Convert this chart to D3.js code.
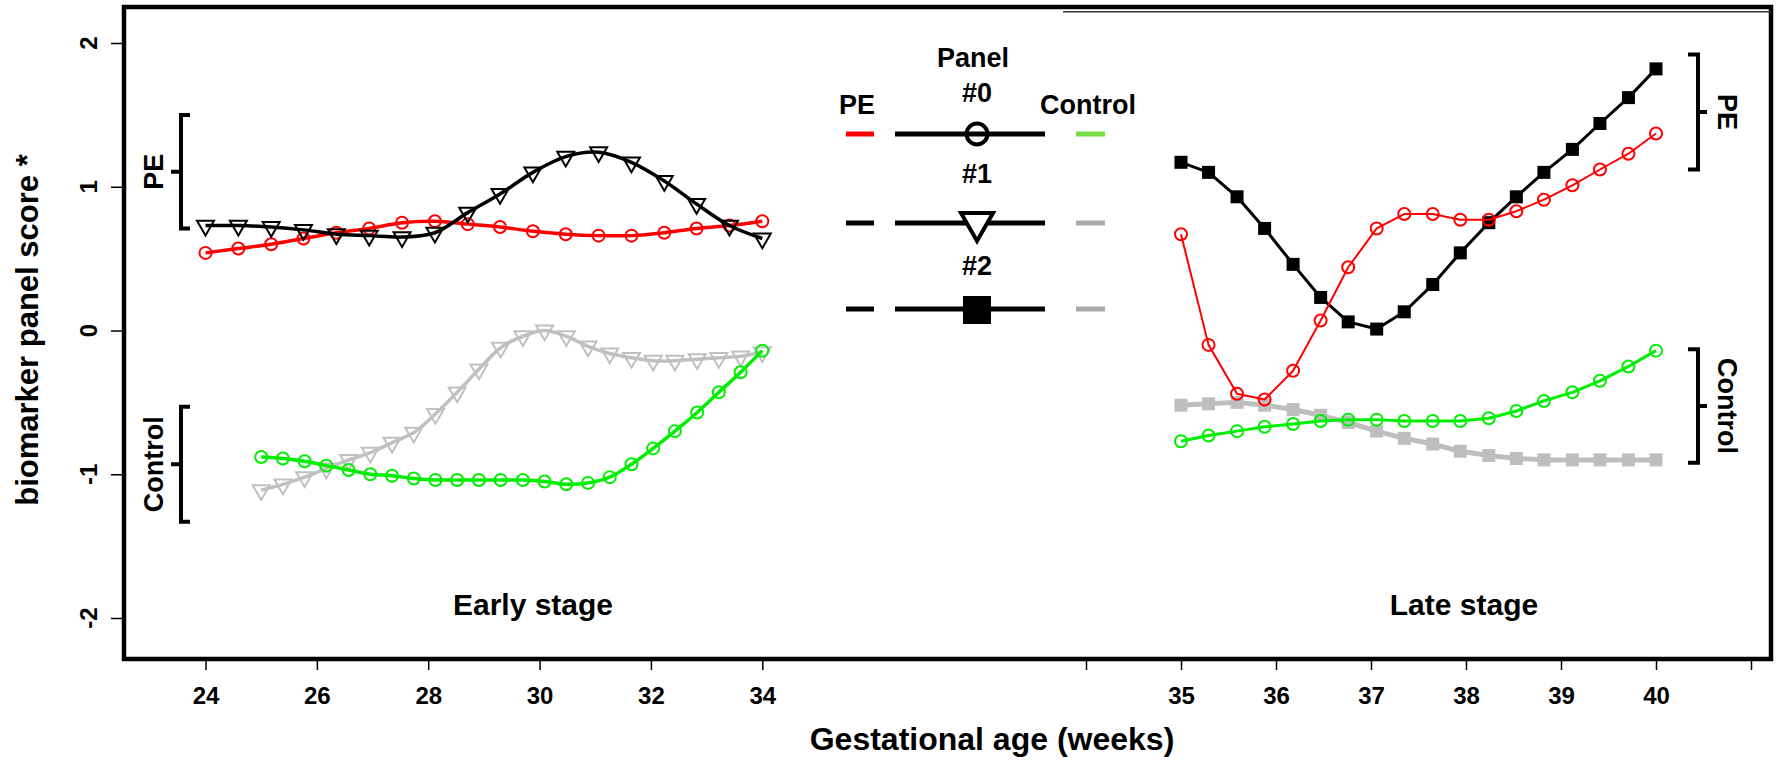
<!DOCTYPE html>
<html>
<head>
<meta charset="utf-8">
<script src="https://cdn.jsdelivr.net/npm/d3@7"></script>
<style>
  body { margin: 0; background: #fff; }
  text { font-family: "Liberation Sans", Arial, sans-serif; font-weight: bold; fill: #000; }
</style>
</head>
<body>
<div id="chart"></div>
<script>
// weeks for each stage
var earlyPEWeeks = [24, 24.59, 25.18, 25.76, 26.35, 26.94, 27.53, 28.12, 28.71, 29.29, 29.88, 30.47, 31.06, 31.65, 32.24, 32.82, 33.41, 34];
var earlyCtrlWeeks = [25, 25.39, 25.78, 26.17, 26.57, 26.96, 27.35, 27.74, 28.13, 28.52, 28.91, 29.30, 29.70, 30.09, 30.48, 30.87, 31.26, 31.65, 32.04, 32.43, 32.83, 33.22, 33.61, 34];
var lateWeeks = [35, 35.29, 35.59, 35.88, 36.18, 36.47, 36.76, 37.06, 37.35, 37.65, 37.94, 38.24, 38.53, 38.82, 39.12, 39.41, 39.71, 40];

// early stage scores
var earlyPE0 = [0.54, 0.57, 0.60, 0.64, 0.68, 0.71, 0.75, 0.76, 0.74, 0.72, 0.69, 0.67, 0.66, 0.66, 0.68, 0.71, 0.73, 0.76];
var earlyPE1 = [0.73, 0.73, 0.72, 0.70, 0.67, 0.66, 0.65, 0.68, 0.82, 0.95, 1.10, 1.21, 1.24, 1.17, 1.04, 0.88, 0.73, 0.64];
var earlyCtrl0 = [-0.88, -0.89, -0.91, -0.94, -0.97, -1.00, -1.01, -1.03, -1.04, -1.04, -1.04, -1.04, -1.04, -1.05, -1.07, -1.06, -1.02, -0.93, -0.82, -0.70, -0.57, -0.43, -0.29, -0.14];
var earlyCtrl1 = [-1.11, -1.07, -1.02, -0.96, -0.90, -0.85, -0.78, -0.71, -0.58, -0.43, -0.27, -0.12, -0.04, 0.00, -0.04, -0.11, -0.16, -0.19, -0.21, -0.21, -0.20, -0.19, -0.18, -0.15];

// late stage scores
var latePE0 = [0.67, -0.10, -0.44, -0.48, -0.28, 0.07, 0.44, 0.71, 0.81, 0.81, 0.77, 0.77, 0.83, 0.91, 1.01, 1.12, 1.23, 1.37];
var latePE2 = [1.17, 1.10, 0.93, 0.71, 0.46, 0.23, 0.06, 0.01, 0.13, 0.32, 0.54, 0.75, 0.93, 1.10, 1.26, 1.44, 1.62, 1.82];
var lateCtrl0 = [-0.77, -0.73, -0.70, -0.67, -0.65, -0.63, -0.62, -0.62, -0.63, -0.63, -0.63, -0.61, -0.56, -0.49, -0.43, -0.35, -0.25, -0.14];
var lateCtrl2 = [-0.52, -0.51, -0.50, -0.52, -0.55, -0.59, -0.64, -0.70, -0.75, -0.79, -0.84, -0.87, -0.89, -0.90, -0.90, -0.90, -0.90, -0.90];

// axis ticks
var yTicks = [-2, -1, 0, 1, 2];
var earlyTicks = [24, 26, 28, 30, 32, 34];
var lateTicks = [34, 35, 36, 37, 38, 39, 40, 41];
var lateTickLabels = ["", "35", "36", "37", "38", "39", "40", ""];

// group brackets [stage, label, top, bottom]
var brackets = [
  ["early", "PE", 1.50, 0.71],
  ["early", "Control", -0.53, -1.33],
  ["late", "PE", 1.92, 1.12],
  ["late", "Control", -0.13, -0.92]
];

var width = 1781, height = 761;
var frame = {left: 124, right: 1771, top: 7, bottom: 659};

var svg = d3.select("#chart").append("svg")
  .attr("width", width)
  .attr("height", height);

var y = d3.scaleLinear().domain([-2, 2]).range([618, 43]);
var xEarly = d3.scaleLinear().domain([24, 34]).range([205.5, 762.3]);
var xLate = d3.scaleLinear().domain([35, 40]).range([1181, 1656]);

// frame
svg.append("rect")
  .attr("x", frame.left).attr("y", frame.top)
  .attr("width", frame.right - frame.left)
  .attr("height", frame.bottom - frame.top)
  .attr("fill", "none").attr("stroke", "#000").attr("stroke-width", 4.5);
svg.append("line")
  .attr("x1", 1063).attr("x2", frame.right).attr("y1", 11.8).attr("y2", 11.8)
  .attr("stroke", "#333").attr("stroke-width", 1.5);

// y axis
var yAxis = svg.append("g").attr("transform", "translate(" + frame.left + ",0)")
  .call(d3.axisLeft(y).tickValues(yTicks).tickSize(13).tickFormat(""));
yAxis.select(".domain").remove();
yAxis.selectAll("line").attr("stroke-width", 1.5);
svg.selectAll(".ylab").data(yTicks).enter().append("text")
  .attr("transform", function(d) { return "translate(96.7," + y(d) + ") rotate(-90)"; })
  .attr("text-anchor", "middle")
  .style("font-size", "24px")
  .text(function(d) { return d; });

svg.append("text")
  .attr("transform", "translate(38,330) rotate(-90)")
  .attr("text-anchor", "middle")
  .style("font-size", "31px")
  .text("biomarker panel score *");

// x axes
var ea = svg.append("g").attr("transform", "translate(0," + frame.bottom + ")")
  .call(d3.axisBottom(xEarly).tickValues(earlyTicks).tickSize(11).tickPadding(30));
var la = svg.append("g").attr("transform", "translate(0," + frame.bottom + ")")
  .call(d3.axisBottom(xLate).tickValues(lateTicks).tickSize(11).tickPadding(30)
    .tickFormat(function(d, i) { return lateTickLabels[i]; }));
[ea, la].forEach(function(a) {
  a.select(".domain").remove();
  a.selectAll("line").attr("stroke-width", 1.5);
  a.selectAll("text").attr("dy", 0).attr("y", 45).style("font-size", "24px")
    .style("font-family", "'Liberation Sans', Arial, sans-serif").style("font-weight", "bold");
});

svg.append("text")
  .attr("x", 992).attr("y", 750)
  .attr("text-anchor", "middle")
  .style("font-size", "32px")
  .text("Gestational age (weeks)");

svg.append("text").attr("x", 533).attr("y", 615).attr("text-anchor", "middle")
  .style("font-size", "30px").text("Early stage");
svg.append("text").attr("x", 1464).attr("y", 615).attr("text-anchor", "middle")
  .style("font-size", "30px").text("Late stage");

// markers
function triangle(g, cx, cy, s, color, sw) {
  g.append("path")
    .attr("d", "M" + (cx - 1.35 * s) + "," + (cy - 0.78 * s) +
               "L" + (cx + 1.35 * s) + "," + (cy - 0.78 * s) +
               "L" + cx + "," + (cy + 1.56 * s) + "Z")
    .attr("fill", "none").attr("stroke", color).attr("stroke-width", sw);
}

function series(weeks, vals, xs, color, lw, marker, curve) {
  var g = svg.append("g");
  var pts = weeks.map(function(w, i) { return [xs(w), y(vals[i])]; });
  g.append("path")
    .attr("d", d3.line().curve(curve)(pts))
    .attr("fill", "none").attr("stroke", color).attr("stroke-width", lw)
    .attr("stroke-linejoin", "round");
  pts.forEach(function(p) {
    if (marker === "circle") {
      g.append("circle").attr("cx", p[0]).attr("cy", p[1]).attr("r", 6)
        .attr("fill", "none").attr("stroke", color).attr("stroke-width", 2);
    } else if (marker === "tri") {
      triangle(g, p[0], p[1], 6.3, color, 2);
    } else if (marker === "square") {
      g.append("rect").attr("x", p[0] - 6.5).attr("y", p[1] - 6.5)
        .attr("width", 13).attr("height", 13).attr("fill", color);
    }
  });
}

var smooth = d3.curveCatmullRom;
series(earlyCtrlWeeks, earlyCtrl1, xEarly, "#c0c0c0", 3.5, "tri", smooth);
series(earlyCtrlWeeks, earlyCtrl0, xEarly, "#00ee00", 3.5, "circle", smooth);
series(earlyPEWeeks, earlyPE0, xEarly, "#ff0000", 3.5, "circle", smooth);
series(earlyPEWeeks, earlyPE1, xEarly, "#000000", 3.5, "tri", smooth);

series(lateWeeks, lateCtrl2, xLate, "#bebebe", 5, "square", d3.curveLinear);
series(lateWeeks, lateCtrl0, xLate, "#00ee00", 3, "circle", d3.curveLinear);
series(lateWeeks, latePE2, xLate, "#000000", 3, "square", d3.curveLinear);
series(lateWeeks, latePE0, xLate, "#ff0000", 2, "circle", d3.curveLinear);

// brackets
brackets.forEach(function(b) {
  var early = b[0] === "early";
  var vx = early ? 181 : 1698;
  var hook = early ? 9 : -10;
  var nub = early ? -10 : 9;
  var y0 = y(b[2]), y1 = y(b[3]), ym = (y0 + y1) / 2;
  svg.append("path")
    .attr("d", "M" + (vx + hook) + "," + y0 + "L" + vx + "," + y0 + "L" + vx + "," + y1 + "L" + (vx + hook) + "," + y1 +
               "M" + vx + "," + ym + "L" + (vx + nub) + "," + ym)
    .attr("fill", "none").attr("stroke", "#000").attr("stroke-width", 4);
  svg.append("text")
    .attr("transform", early ? "translate(163," + ym + ") rotate(-90)" : "translate(1718," + ym + ") rotate(90)")
    .attr("text-anchor", "middle")
    .style("font-size", "27px")
    .text(b[1]);
});

// legend
var legRows = [134, 223, 309];
var legNames = ["#0", "#1", "#2"];
var legPE = ["#ff0000", "#000000", "#000000"];
var legCtrl = ["#77dd44", "#aaaaaa", "#aaaaaa"];
var legMarks = ["circle", "tri", "square"];
var leg = svg.append("g");
leg.append("text").attr("x", 857).attr("y", 114).attr("text-anchor", "middle").style("font-size", "27px").text("PE");
leg.append("text").attr("x", 973).attr("y", 67).attr("text-anchor", "middle").style("font-size", "27px").text("Panel");
leg.append("text").attr("x", 1088).attr("y", 114).attr("text-anchor", "middle").style("font-size", "27px").text("Control");
var nameY = [102, 183, 275];
legRows.forEach(function(ly, i) {
  leg.append("text").attr("x", 977).attr("y", nameY[i]).attr("text-anchor", "middle")
    .style("font-size", "27px").text(legNames[i]);
  leg.append("line").attr("x1", 846).attr("x2", 874).attr("y1", ly).attr("y2", ly)
    .attr("stroke", legPE[i]).attr("stroke-width", 5);
  leg.append("line").attr("x1", 1076).attr("x2", 1105).attr("y1", ly).attr("y2", ly)
    .attr("stroke", legCtrl[i]).attr("stroke-width", 5);
  leg.append("line").attr("x1", 895).attr("x2", 1045).attr("y1", ly).attr("y2", ly)
    .attr("stroke", "#000").attr("stroke-width", 5);
  if (legMarks[i] === "circle") {
    leg.append("circle").attr("cx", 977).attr("cy", ly).attr("r", 10.5)
      .attr("fill", "none").attr("stroke", "#000").attr("stroke-width", 4);
  } else if (legMarks[i] === "tri") {
    leg.append("path")
      .attr("d", "M961," + (ly - 10) + "L993," + (ly - 10) + "L977," + (ly + 18) + "Z")
      .attr("fill", "#fff").attr("stroke", "#000").attr("stroke-width", 4).attr("stroke-linejoin", "miter");
  } else {
    leg.append("rect").attr("x", 963).attr("y", ly - 13).attr("width", 28).attr("height", 28).attr("fill", "#000");
  }
});
</script>
</body>
</html>
